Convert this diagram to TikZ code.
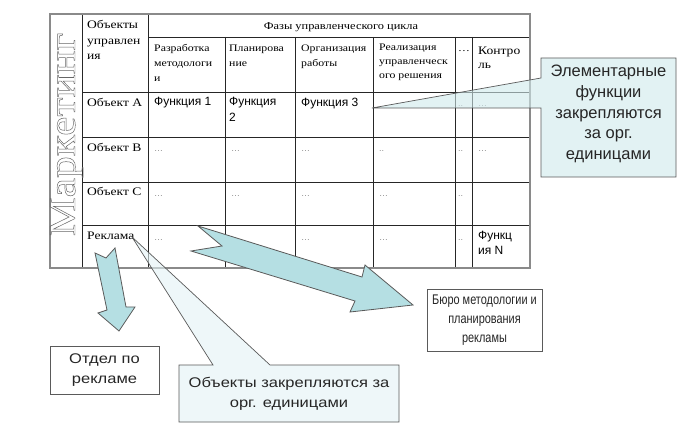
\documentclass[tikz,border=0pt]{standalone}
\usepackage{fontspec}
\setmainfont{Liberation Serif}
\newfontfamily\sansf{Liberation Sans}
\newfontfamily\serifw[FakeStretch=1.18]{Liberation Serif}
\newfontfamily\sansw[FakeStretch=1.18]{Liberation Sans}
\newfontfamily\sansn[FakeStretch=0.78]{Liberation Sans}
\definecolor{arrowfill}{HTML}{B5DFE3}
\definecolor{calloutfill}{HTML}{D0EAEC}
\definecolor{calloutfillb}{HTML}{E3F3F5}
\definecolor{edgegray}{HTML}{5A5A5A}
\definecolor{tablegray}{HTML}{8A8A8A}
\definecolor{dotgray}{HTML}{8C8C8C}
\newcommand{\outlineon}{\special{pdf:literal direct 1 Tr 0.45 w}}
\newcommand{\outlineoff}{\special{pdf:literal direct 0 Tr}}
\begin{document}
\begin{tikzpicture}[x=1pt,y=-1pt,
  tline/.style={draw=black!85, line width=0.8pt},
  touter/.style={draw=tablegray, line width=1.5pt},
  serif/.style={font=\serifw\fontsize{11.5}{13}\selectfont, inner sep=0pt, anchor=base west},
  hsmall/.style={font=\serifw\fontsize{10}{11}\selectfont, inner sep=0pt, anchor=base west},
  cellsans/.style={font=\sansf\fontsize{12}{13}\selectfont, inner sep=0pt, anchor=base west},
  dots/.style={font=\sansf\fontsize{9}{10}\selectfont, text=dotgray, inner sep=0pt, anchor=base west},
  blockarrow/.style={draw=edgegray, line width=0.8pt, fill=arrowfill, line join=miter},
  callout/.style={draw=edgegray, line width=0.7pt},
  boxtext/.style={align=center, text=black!85, inner sep=0pt},
  plainbox/.style={draw=edgegray, line width=0.8pt, fill=white, inner sep=0pt},
]
\useasboundingbox[fill=white] (0,0) rectangle (688,438);

% ---------- table grid ----------
\foreach \yy in {92,137,182,225} \draw[tline] (82,\yy) -- (530,\yy);
\draw[tline] (148,37) -- (530,37);
\draw[tline] (82,14) -- (82,268);
\draw[tline] (148,14) -- (148,268);
\foreach \xx in {225,295,373,455,472} \draw[tline] (\xx,37) -- (\xx,268);
\draw[touter] (50,14) rectangle (530,268);

% ---------- vertical title ----------
\node[rotate=90, anchor=base, inner sep=0pt, text=black!60,
      font=\fontsize{38}{38}\selectfont] (mk) at (75,134.5)
      {\scalebox{1.15}[1]{\outlineon Маркетинг\outlineoff}};

% ---------- header ----------
\node[serif] (h1a) at (87,29) {Объекты};
\node[serif] (h1b) at (87,45) {управлен};
\node[serif] (h1c) at (87,60) {ия};
\node[serif, anchor=base, font=\serifw\fontsize{10.5}{12}\selectfont] (hph) at (341,30) {Фазы управленческого цикла};
\node[hsmall] (s1a) at (154,52) {Разработка};
\node[hsmall] (s1b) at (154,67) {методологи};
\node[hsmall] (s1c) at (154,82) {и};
\node[hsmall] (s2a) at (229,52) {Планирова};
\node[hsmall] (s2b) at (229,67) {ние};
\node[hsmall] (s3a) at (301,52) {Организация};
\node[hsmall] (s3b) at (301,67) {работы};
\node[hsmall] (s4a) at (379,51) {Реализация};
\node[hsmall] (s4b) at (379,65) {управленческ};
\node[hsmall] (s4c) at (379,79) {ого решения};
\node[hsmall] (s5a) at (458,52) {…};
\node[serif] (s6a) at (478,55) {Контро};
\node[serif] (s6b) at (478,69) {ль};

% ---------- body ----------
\node[serif] (ra) at (87,107) {Объект А};
\node[cellsans] (fa1) at (154,106) {Функция 1};
\node[cellsans] (fa2) at (229,106) {Функция};
\node[cellsans] (fa2b) at (229,122) {2};
\node[cellsans] (fa3) at (301,107) {Функция 3};
\node[dots] (da5) at (458,107) {..};
\node[dots] (da6) at (478,107) {…};

\node[serif] (rb) at (87,152) {Объект В};
\node[dots] (db1) at (154,152) {…};
\node[dots] (db2) at (231,152) {…};
\node[dots] (db3) at (301,152) {…};
\node[dots] (db4) at (379,152) {..};
\node[dots] (db5) at (458,152) {..};
\node[dots] (db6) at (478,152) {…};

\node[serif] (rc) at (87,196) {Объект С};
\node[dots] (dc1) at (154,197) {…};
\node[dots] (dc2) at (231,197) {…};
\node[dots] (dc3) at (301,197) {…};
\node[dots] (dc4) at (379,197) {…};
\node[dots] (dc5) at (458,197) {..};

\node[serif] (rr) at (87,240) {Реклама};
\node[dots] (dr1) at (154,241) {…};
\node[dots] (dr3) at (301,241) {…};
\node[dots] (dr4) at (379,241) {…};
\node[dots] (dr5) at (458,241) {..};
\node[cellsans] (frn) at (478,240) {Функц};
\node[cellsans] (frn2) at (478,255) {ия N};

% ---------- top-right callout ----------
\draw[callout, fill=calloutfill, fill opacity=0.6]
  (541,58) -- (676,58) -- (676,177) -- (541,177) -- (541,108) -- (372,108) -- (541,78) -- cycle;
\node[boxtext, font=\sansf\fontsize{16.5}{20.7}\selectfont] (elem) at (608.5,114)
  {Элементарные\\функции\\закрепляются\\за орг.\\единицами};

% ---------- bottom callout ----------
\draw[callout, fill=calloutfillb, fill opacity=0.6]
  (179,365) -- (213,365) -- (132,237) -- (270,365) -- (399,365) -- (399,422) -- (179,422) -- cycle;
\node[boxtext, font=\sansw\fontsize{14}{20}\selectfont] (objc) at (289,393.5)
  {Объекты закрепляются за\\орг. единицами};

% ---------- block arrows ----------
\draw[blockarrow] (95,253) -- (106,258) -- (115,248) -- (126,307) -- (135,307)
  -- (119,331) -- (98,313) -- (107,310) -- cycle;
\draw[blockarrow] (198,226) -- (362,277) -- (365,265) -- (413,305) -- (350,312)
  -- (355,301) -- (191,251) -- (222,246) -- cycle;

% ---------- boxes ----------
\node[plainbox, boxtext, font=\sansw\fontsize{14}{20}\selectfont,
      minimum width=109pt, minimum height=48pt] (otdel) at (104.5,370) {Отдел по\\рекламе};
\node[plainbox, boxtext, font=\sansn\fontsize{14}{19}\selectfont,
      minimum width=115pt, minimum height=62pt] (buro) at (484.5,320)
      {Бюро методологии и\\планирования\\рекламы};
\end{tikzpicture}
\end{document}
